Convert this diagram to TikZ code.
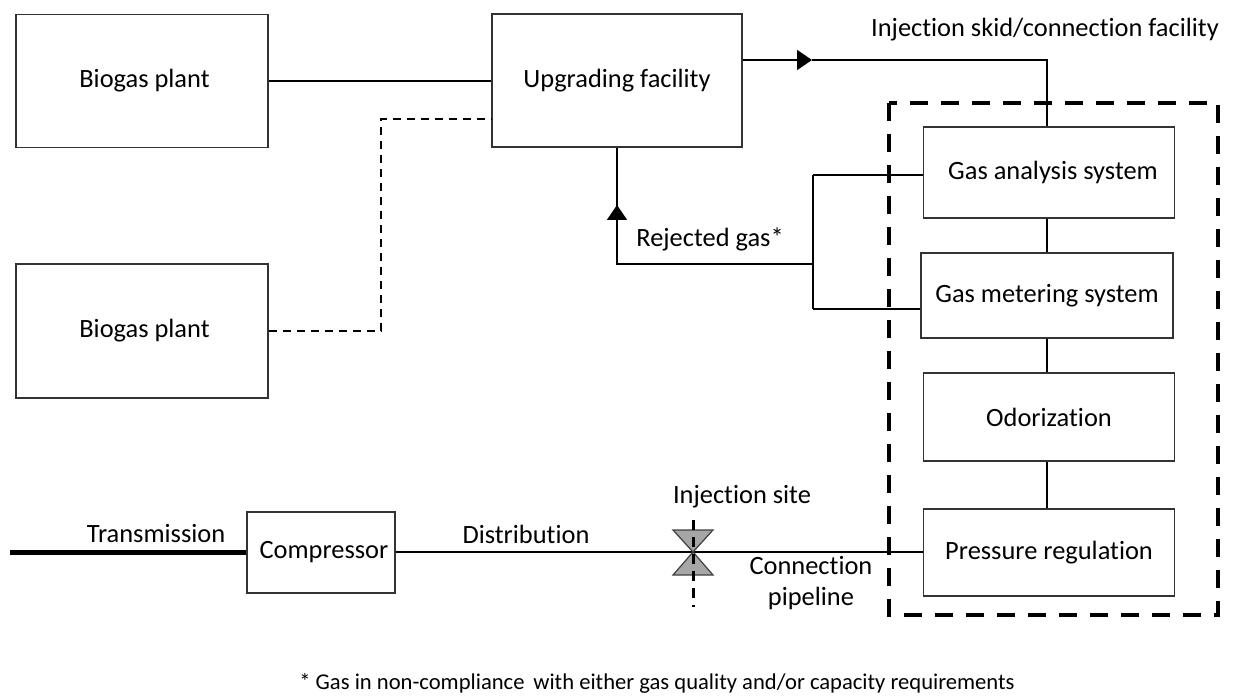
\documentclass[tikz,border=0pt]{standalone}
\usepackage{fontspec}
\setmainfont[Ligatures=NoCommon]{Carlito}
\usetikzlibrary{arrows.meta}
\begin{document}
\begin{tikzpicture}[x=1pt,y=-1pt,
  box/.style={draw=black!80,line width=1.5pt,inner sep=0pt,font=\fontsize{26.4}{31}\selectfont},
  conn/.style={draw=black,line width=1.8pt},
  lbl/.style={font=\fontsize{26.4}{31}\selectfont,inner sep=0pt,align=center},
  tri/.style={-{Triangle[length=15pt,width=20pt]}}]
\useasboundingbox (0,0) rectangle (1233,700);
% boxes
\node[box,minimum width=252pt,minimum height=133pt] (bio1) at (142,81) {\hspace*{5pt}Biogas plant};
\node[box,minimum width=252pt,minimum height=134pt] (bio2) at (142,331) {\hspace*{5pt}Biogas plant};
\node[box,minimum width=250pt,minimum height=133pt] (up) at (617,80.5) {Upgrading facility};
\node[box,minimum width=251pt,minimum height=91pt] (gas) at (1049,172.5) {\hspace*{8pt}Gas analysis system};
\node[box,minimum width=252pt,minimum height=85pt] (meter) at (1047,295.5) {Gas metering system};
\node[box,minimum width=251pt,minimum height=88pt] (odor) at (1049,417) {Odorization};
\node[box,minimum width=251pt,minimum height=87pt] (press) at (1049,552.5) {Pressure regulation};
\node[box,minimum width=148pt,minimum height=81pt] (comp) at (321,552.5) {\hspace*{6pt}Compressor};
% dashed frame
\draw[line width=4pt,dash pattern=on 18pt off 13pt] (889,103) rectangle (1218,615);
% upper connectors
\draw[conn] (bio1.east |- 0,81) -- (up.west |- 0,81);
\draw[conn,line width=1.5pt,dash pattern=on 8pt off 6pt] (bio2.east) -- (381,331) -- (381,119) -- (up.west |- 0,119);
\coordinate (a1) at (812,60);
\coordinate (skid) at (1047,60);
\draw[conn,tri] (up.east |- 0,60) -- (a1);
\draw[conn] (a1) -- (skid) -- (gas.north -| skid);
% rejected gas
\coordinate (r0) at (617,264);
\coordinate (r1) at (617,205);
\coordinate (j0) at (813,264);
\coordinate (j1) at (813,175);
\coordinate (j2) at (813,309);
\draw[conn] (up.south) -- (r0) -- (j0);
\draw[conn,tri] (r0) -- (r1);
\draw[conn] (j1) -- (j2);
\draw[conn] (j1) -- (gas.west |- j1);
\draw[conn] (j2) -- (meter.west |- j2);
% chain
\draw[conn] (gas.south -| skid) -- (meter.north -| skid);
\draw[conn] (meter.south -| skid) -- (odor.north -| skid);
\draw[conn] (odor.south -| skid) -- (press.north -| skid);
% bottom line
\coordinate (t0) at (10,552);
\draw[draw=black,line width=5pt] (t0) -- (comp.west |- t0);
\draw[conn] (comp.east |- t0) -- (press.west |- t0);
% valve
\coordinate (v) at (693,552);
\draw[draw=black!75,fill=black!35,line width=1.2pt] (673,530) -- (713,530) -- (v) -- cycle;
\draw[draw=black!75,fill=black!35,line width=1.2pt] (673,575) -- (713,575) -- (v) -- cycle;
\draw[line width=3pt,dash pattern=on 10pt off 7pt] (693,520) -- (693,607);
% labels
\node[lbl] (lskid) at (1045,30) {Injection skid/connection facility};
\node[lbl] (lrej) at (710,239) {Rejected gas*};
\node[lbl] (ltrans) at (156,534) {Transmission};
\node[lbl] (ldist) at (526,534) {Distribution};
\node[lbl] (linj) at (742,497) {Injection site};
\node[lbl] (lpipe) at (811,583) {Connection\\pipeline};
\node[lbl,font=\fontsize{22.6}{27}\selectfont] (note) at (657,683) {* Gas in non-compliance\, with either gas quality and/or capacity requirements};
\end{tikzpicture}
\end{document}
